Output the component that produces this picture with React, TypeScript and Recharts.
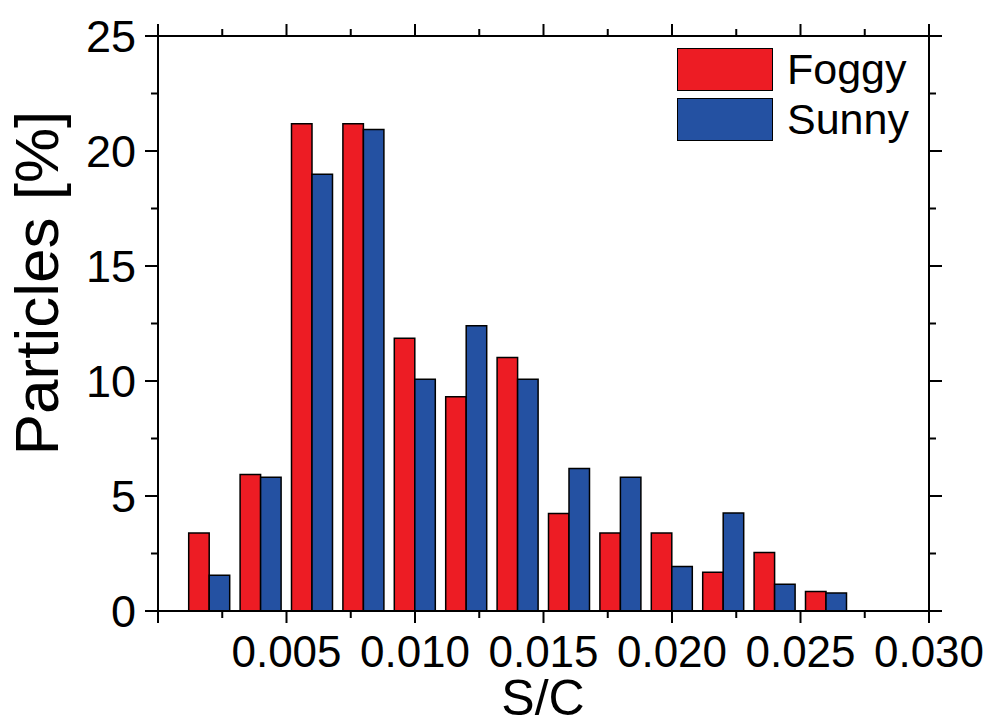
import React from 'react';
import { ComposedChart, Bar, Line, XAxis, YAxis, Legend } from 'recharts';

// S/C bin centres and particle percentages for each weather condition
const binCenters = [0.002, 0.004, 0.006, 0.008, 0.01, 0.012, 0.014, 0.016, 0.018, 0.02, 0.022, 0.024, 0.026];
const foggy = [3.39, 5.93, 21.19, 21.19, 11.86, 9.32, 11.02, 4.24, 3.39, 3.39, 1.69, 2.54, 0.85];
const sunny = [1.55, 5.81, 18.99, 20.93, 10.08, 12.4, 10.08, 6.2, 5.81, 1.94, 4.26, 1.16, 0.78];

const xTicks = [0, 0.0025, 0.005, 0.0075, 0.01, 0.0125, 0.015, 0.0175, 0.02, 0.0225, 0.025, 0.0275, 0.03];
const yTicks = [0, 2.5, 5, 7.5, 10, 12.5, 15, 17.5, 20, 22.5, 25];

const data = binCenters.map((sc, i) => ({ sc, foggy: foggy[i], sunny: sunny[i] }));

const FONT = '"Liberation Sans", Arial, Helvetica, sans-serif';
const RED = '#ED1C24';
const BLUE = '#2451A2';
const AXIS = { stroke: '#000', strokeWidth: 2 };

const isMajorX = (v: number) => Math.round(v / 0.0025) % 2 === 0;
const isMajorY = (v: number) => Math.round(v / 2.5) % 2 === 0;

function BottomTick({ x, y, payload }: any) {
  const v = payload.value;
  const major = isMajorX(v);
  return (
    <g>
      <line x1={x} y1={y} x2={x} y2={y + (major ? 12 : 7)} stroke="#000" strokeWidth={2} />
      {major && v > 0 && (
        <text x={x} y={y + 56} textAnchor="middle" fontSize={44} fontFamily={FONT} fill="#000">
          {v.toFixed(3)}
        </text>
      )}
    </g>
  );
}

function TopTick({ x, y, payload }: any) {
  const major = isMajorX(payload.value);
  return <line x1={x} y1={y} x2={x} y2={y - (major ? 12 : 7)} stroke="#000" strokeWidth={2} />;
}

function LeftTick({ x, y, payload }: any) {
  const v = payload.value;
  const major = isMajorY(v);
  return (
    <g>
      <line x1={x} y1={y} x2={x - (major ? 13 : 7)} y2={y} stroke="#000" strokeWidth={2} />
      {major && (
        <text x={x - 22} y={y + 16} textAnchor="end" fontSize={45} fontFamily={FONT} fill="#000">
          {v}
        </text>
      )}
    </g>
  );
}

function RightTick({ x, y, payload }: any) {
  const major = isMajorY(payload.value);
  return <line x1={x} y1={y} x2={x + (major ? 13 : 7)} y2={y} stroke="#000" strokeWidth={2} />;
}

const LegendBox = () => (
  <div style={{ fontFamily: FONT }}>
    {[
      ['Foggy', RED],
      ['Sunny', BLUE],
    ].map(([name, c], i) => (
      <div key={name} style={{ display: 'flex', alignItems: 'center', height: 44, marginBottom: i === 0 ? 6 : 0 }}>
        <div style={{ width: 94, height: 41, background: c, border: '1.5px solid #000' }} />
        <span style={{ fontSize: 43, marginLeft: 14, lineHeight: '44px', color: '#000' }}>{name}</span>
      </div>
    ))}
  </div>
);

export default function App() {
  return (
    <div style={{ position: 'absolute', left: 0, top: 0, background: '#fff' }}>
      <ComposedChart
        width={987}
        height={721}
        data={data}
        margin={{ top: 35, right: 57, bottom: 0, left: 0 }}
        barGap={0}
        barSize={20.5}
      >
        <XAxis
          dataKey="sc"
          type="number"
          domain={[0, 0.03]}
          ticks={xTicks}
          interval={0}
          height={110}
          tickSize={0}
          tickMargin={0}
          tickLine={false}
          axisLine={AXIS}
          tick={<BottomTick />}
          label={{
            content: () => (
              <text x={543} y={715} textAnchor="middle" fontSize={50} fontFamily={FONT} fill="#000">
                S/C
              </text>
            ),
          }}
        />
        <XAxis
          xAxisId="top"
          orientation="top"
          dataKey="sc"
          type="number"
          domain={[0, 0.03]}
          ticks={xTicks}
          interval={0}
          height={1}
          tickSize={0}
          tickMargin={0}
          tickLine={false}
          axisLine={AXIS}
          tick={<TopTick />}
        />
        <YAxis
          type="number"
          domain={[0, 25]}
          ticks={yTicks}
          interval={0}
          width={158}
          tickSize={0}
          tickMargin={0}
          tickLine={false}
          axisLine={AXIS}
          tick={<LeftTick />}
          label={{
            content: () => (
              <text
                x={58}
                y={283}
                transform="rotate(-90, 58, 283)"
                textAnchor="middle"
                fontSize={62}
                fontFamily={FONT}
                fill="#000"
              >
                Particles [%]
              </text>
            ),
          }}
        />
        <YAxis
          yAxisId="right"
          orientation="right"
          type="number"
          domain={[0, 25]}
          allowDataOverflow
          ticks={yTicks}
          interval={0}
          width={1}
          tickSize={0}
          tickMargin={0}
          tickLine={false}
          axisLine={AXIS}
          tick={<RightTick />}
        />
        <Legend
          layout="vertical"
          align="center"
          verticalAlign="middle"
          content={<LegendBox />}
          wrapperStyle={{ left: 677, top: 47, width: 260 }}
        />
        <Bar dataKey="foggy" name="Foggy" fill={RED} stroke="#000" strokeWidth={1.5} isAnimationActive={false} />
        <Bar dataKey="sunny" name="Sunny" fill={BLUE} stroke="#000" strokeWidth={1.5} isAnimationActive={false} />
        {/* invisible series so the mirrored top/right frame axes are drawn */}
        <Line
          xAxisId="top"
          yAxisId="right"
          dataKey="foggy"
          stroke="none"
          dot={false}
          activeDot={false}
          legendType="none"
          isAnimationActive={false}
        />
      </ComposedChart>
    </div>
  );
}
